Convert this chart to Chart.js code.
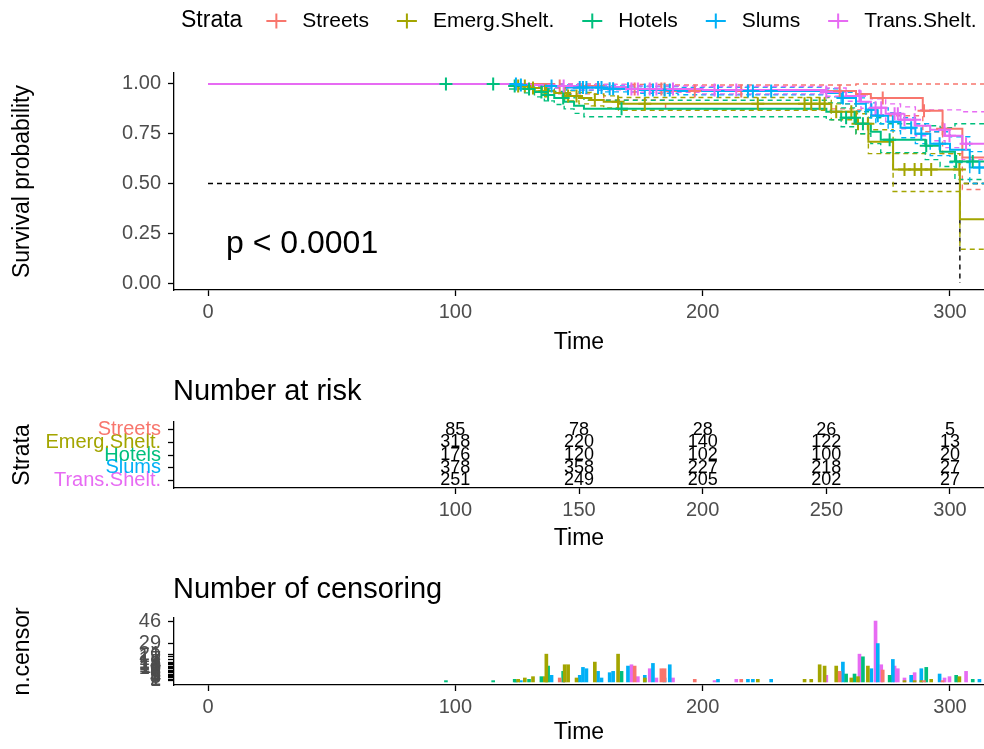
<!DOCTYPE html>
<html>
<head>
<meta charset="utf-8">
<script src="https://cdn.jsdelivr.net/npm/chart.js@4.4.1/dist/chart.umd.min.js"></script>
<style>
  html, body { margin: 0; padding: 0; background: #fff; }
  #wrap { position: relative; width: 984px; height: 749px; overflow: hidden; }
  #wrap canvas { position: absolute; left: 0; }
</style>
</head>
<body>
<div id="wrap">
  <canvas id="surv" width="984" height="365" style="top:0px"></canvas>
  <canvas id="risk" width="984" height="190" style="top:365px"></canvas>
  <canvas id="cens" width="984" height="194" style="top:555px"></canvas>
</div>
<script>
const strata = ['Streets', 'Emerg.Shelt.', 'Hotels', 'Slums', 'Trans.Shelt.'];
const colors = ['#F8766D', '#A3A500', '#00BF7D', '#00B0F6', '#E76BF3'];

// Kaplan-Meier steps: event time, survival, upper and lower confidence bound
const streetsTime  = [0, 140, 160, 185, 262, 268, 289, 297, 305, 320];
const streetsSurv  = [1, 0.99, 0.975, 0.965, 0.95, 0.93, 0.865, 0.775, 0.63, 0.63];
const streetsUpper = [1, 1, 0.998, 0.995, 1, 1, 1, 1, 1, 1];
const streetsLower = [1, 0.95, 0.92, 0.875, 0.87, 0.84, 0.76, 0.65, 0.47, 0.47];

const emergTime  = [0, 125, 130, 135, 140, 145, 150, 155, 160, 166, 252, 262, 267, 277, 304, 320];
const emergSurv  = [1, 0.99, 0.98, 0.965, 0.955, 0.94, 0.93, 0.92, 0.91, 0.90, 0.86, 0.80, 0.71, 0.57, 0.32, 0.32];
const emergUpper = [1, 1, 0.995, 0.985, 0.978, 0.966, 0.957, 0.948, 0.94, 0.932, 0.90, 0.85, 0.77, 0.65, 0.50, 0.50];
const emergLower = [1, 0.98, 0.965, 0.945, 0.93, 0.915, 0.90, 0.89, 0.88, 0.868, 0.82, 0.75, 0.65, 0.46, 0.17, 0.17];

const hotelsTime  = [0, 122, 128, 132, 136, 140, 144, 148, 152, 250, 256, 262, 268, 272, 290, 296, 302, 320];
const hotelsSurv  = [1, 0.99, 0.975, 0.96, 0.945, 0.93, 0.91, 0.89, 0.875, 0.86, 0.83, 0.80, 0.76, 0.72, 0.69, 0.66, 0.61, 0.61];
const hotelsUpper = [1, 1, 0.995, 0.985, 0.975, 0.962, 0.946, 0.93, 0.918, 0.905, 0.88, 0.86, 0.83, 0.80, 0.79, 0.78, 0.80, 0.80];
const hotelsLower = [1, 0.975, 0.955, 0.935, 0.915, 0.897, 0.875, 0.852, 0.835, 0.82, 0.785, 0.75, 0.70, 0.655, 0.62, 0.585, 0.52, 0.52];

const slumsTime  = [0, 125, 135, 145, 160, 175, 190, 250, 256, 262, 266, 270, 275, 280, 286, 292, 300, 308, 320];
const slumsSurv  = [1, 0.995, 0.99, 0.982, 0.976, 0.97, 0.965, 0.955, 0.93, 0.90, 0.87, 0.84, 0.81, 0.78, 0.75, 0.70, 0.67, 0.58, 0.58];
const slumsUpper = [1, 1, 1, 0.995, 0.99, 0.987, 0.983, 0.976, 0.958, 0.93, 0.905, 0.88, 0.855, 0.83, 0.80, 0.76, 0.735, 0.66, 0.66];
const slumsLower = [1, 0.988, 0.98, 0.968, 0.96, 0.953, 0.946, 0.935, 0.90, 0.865, 0.83, 0.80, 0.765, 0.73, 0.70, 0.64, 0.605, 0.50, 0.50];

const transTime  = [0, 130, 140, 150, 170, 200, 250, 258, 264, 268, 274, 280, 286, 292, 298, 305, 320];
const transSurv  = [1, 0.995, 0.99, 0.985, 0.975, 0.97, 0.96, 0.94, 0.91, 0.88, 0.85, 0.82, 0.79, 0.77, 0.74, 0.70, 0.70];
const transUpper = [1, 1, 1, 0.997, 0.99, 0.987, 0.98, 0.965, 0.945, 0.925, 0.90, 0.885, 0.87, 0.87, 0.87, 0.86, 0.86];
const transLower = [1, 0.985, 0.978, 0.97, 0.958, 0.95, 0.938, 0.913, 0.878, 0.845, 0.81, 0.775, 0.74, 0.715, 0.68, 0.62, 0.62];

// censoring: [time, number censored]
const streetsCensor = [[142.2, 3], [172.5, 12], [183.3, 10], [184.6, 10], [196.8, 2], [215.6, 2], [255.4, 8], [272.8, 9], [289.5, 1], [297, 1]];
const emergCensor = [[125.4, 2], [128.1, 3], [131.4, 4], [136.2, 4], [136.8, 21], [144.2, 13], [145.6, 13], [149.0, 3], [156.4, 15],
  [165.8, 21], [176.6, 3], [222.3, 2], [241.2, 2], [243.9, 2], [247.3, 13], [249.3, 12], [254.0, 12], [260.1, 3], [262.8, 4],
  [266.8, 12], [281.6, 1], [285.7, 1], [288.4, 1], [292.4, 2], [303.8, 4]];
const hotelsCensor = [[96.2, 1], [115.3, 1], [124.0, 2], [129.8, 2], [134.8, 4], [137.5, 12], [143.6, 8], [167.2, 8], [258.0, 6],
  [261.4, 6], [264.8, 19], [275.6, 5], [290.4, 11], [302.5, 5], [309.2, 2]];
const slumsCensor = [[124.5, 1], [126.5, 1], [138.9, 5], [150.3, 5], [151.6, 11], [153.0, 10], [157.7, 8], [159.1, 3], [162.4, 7],
  [163.8, 8], [169.8, 12], [176.6, 5], [179.9, 14], [184.6, 3], [186.7, 13], [206.2, 2], [218.3, 2], [220.3, 2], [227.7, 2],
  [256.7, 15], [268.2, 10], [270.8, 29], [276.9, 17], [284.3, 5], [288.4, 10], [295.8, 6], [311.9, 2]];
const transCensor = [[143.8, 1], [171.2, 13], [173.8, 4], [178.6, 10], [181.3, 3], [188.0, 3], [204.8, 1], [213.6, 2], [250.0, 5],
  [263.4, 21], [269.9, 46], [272.2, 13], [277.6, 12], [278.9, 10], [281.6, 3], [285.7, 7], [297.8, 3], [299.8, 4], [306.5, 8]];

// number at risk
const riskTimes = [100, 150, 200, 250, 300];
const riskStreets = [85, 78, 28, 26, 5];
const riskEmerg = [318, 220, 140, 122, 13];
const riskHotels = [176, 120, 102, 100, 20];
const riskSlums = [378, 358, 227, 218, 27];
const riskTrans = [251, 249, 205, 202, 27];

// median reference lines and axes
const medianLevel = 0.5;
const medianSpan = [0, 330];
const medianEmerg = 304;
const pText = 'p < 0.0001';
const pPos = [7.3, 0.195];
const timeTicks = [0, 100, 200, 300];
const survTicks = [0, 0.25, 0.5, 0.75, 1];
const timeMin = -13.75, timeMax = 313.75;

const fontFamily = "'Liberation Sans', Arial, sans-serif";
const tickColor = '#4D4D4D';
Chart.defaults.font.family = fontFamily;
Chart.defaults.color = '#000';

const groups = [
  { time: streetsTime, surv: streetsSurv, upper: streetsUpper, lower: streetsLower, censor: streetsCensor },
  { time: emergTime, surv: emergSurv, upper: emergUpper, lower: emergLower, censor: emergCensor },
  { time: hotelsTime, surv: hotelsSurv, upper: hotelsUpper, lower: hotelsLower, censor: hotelsCensor },
  { time: slumsTime, surv: slumsSurv, upper: slumsUpper, lower: slumsLower, censor: slumsCensor },
  { time: transTime, surv: transSurv, upper: transUpper, lower: transLower, censor: transCensor }
];
const riskRows = [riskStreets, riskEmerg, riskHotels, riskSlums, riskTrans];

function pts(xs, ys) { return xs.map((x, i) => ({ x: x, y: ys[i] })); }
function survAt(g, t) {
  let s = g.surv[0];
  for (let i = 0; i < g.time.length; i++) if (g.time[i] <= t) s = g.surv[i];
  return s;
}

function xAxis(ticksAt, height, titlePad) {
  return {
    type: 'linear', min: timeMin, max: timeMax, offset: false,
    afterBuildTicks: s => { s.ticks = ticksAt.map(v => ({ value: v })); },
    // fixed height, and no extra side padding so every panel spans the same width
    afterFit: s => { s.height = height; s.paddingLeft = 0; s.paddingRight = 0; },
    grid: { drawOnChartArea: false, color: '#000', tickLength: 6, tickWidth: 1.3, offset: false },
    border: { color: '#000', width: 1.3 },
    ticks: { color: tickColor, font: { size: 20 }, padding: 4, maxRotation: 0, autoSkip: false },
    title: { display: true, text: 'Time', color: '#000', font: { size: 23, lineHeight: 1.2 }, padding: { top: 0, bottom: titlePad } }
  };
}
function yAxis(title, min, max, ticksAt, extra) {
  return Object.assign({
    type: 'linear', min: min, max: max,
    afterBuildTicks: s => { s.ticks = ticksAt.map(v => ({ value: v })); },
    afterFit: s => { s.width = 174; },
    grid: { drawOnChartArea: false, color: '#000', tickLength: 6, tickWidth: 1.3 },
    border: { color: '#000', width: 1.3 },
    title: { display: true, text: title, color: '#000', font: { size: 23, lineHeight: 1.2 }, padding: { top: 9, bottom: 0 } }
  }, extra);
}

const panelTitle = {
  id: 'panelTitle',
  afterDraw(chart, args, opts) {
    if (!opts.text) return;
    const ctx = chart.ctx;
    ctx.save();
    ctx.font = opts.size + 'px ' + fontFamily;
    ctx.fillStyle = '#000';
    ctx.textAlign = 'left';
    ctx.textBaseline = 'middle';
    ctx.fillText(opts.text, chart.chartArea.left - 1, opts.y);
    ctx.restore();
  }
};

// ggplot-like legend: "Strata" title then crosses with labels in one row
const strataLegend = {
  id: 'strataLegend',
  afterDraw(chart, args, opts) {
    const ctx = chart.ctx;
    const y = opts.y;
    let x = opts.x;
    ctx.save();
    ctx.textAlign = 'left';
    ctx.textBaseline = 'middle';
    ctx.fillStyle = '#000';
    ctx.font = opts.titleSize + 'px ' + fontFamily;
    ctx.fillText('Strata', x, y);
    x += ctx.measureText('Strata').width + opts.titleGap;
    ctx.font = opts.size + 'px ' + fontFamily;
    chart.data.datasets.filter(d => d.isCurve).forEach(d => {
      const w = opts.cross;
      ctx.strokeStyle = d.borderColor;
      ctx.lineWidth = 2;
      ctx.beginPath();
      ctx.moveTo(x, y); ctx.lineTo(x + w, y);
      ctx.moveTo(x + w / 2, y - w * 0.38); ctx.lineTo(x + w / 2, y + w * 0.38);
      ctx.stroke();
      x += w + opts.textGap;
      ctx.fillStyle = '#000';
      ctx.fillText(d.label, x, y);
      x += ctx.measureText(d.label).width + opts.itemGap;
    });
    ctx.restore();
  }
};

const pLabel = {
  id: 'pLabel',
  afterDatasetsDraw(chart) {
    const { ctx, scales } = chart;
    ctx.save();
    ctx.font = '32px ' + fontFamily;
    ctx.fillStyle = '#000';
    ctx.textAlign = 'left';
    ctx.textBaseline = 'middle';
    ctx.fillText(pText, scales.x.getPixelForValue(pPos[0]), scales.y.getPixelForValue(pPos[1]));
    ctx.restore();
  }
};

const riskNumbers = {
  id: 'riskNumbers',
  afterDatasetsDraw(chart) {
    const { ctx, scales } = chart;
    ctx.save();
    ctx.font = '18px ' + fontFamily;
    ctx.fillStyle = '#000';
    ctx.textAlign = 'center';
    ctx.textBaseline = 'middle';
    riskRows.forEach((row, i) => {
      const yy = scales.y.getPixelForValue(strata.length - i);
      riskTimes.forEach((t, j) => ctx.fillText(String(row[j]), scales.x.getPixelForValue(t), yy));
    });
    ctx.restore();
  }
};

// ---------- survival curves ----------
const survDatasets = [];
groups.forEach((g, i) => {
  survDatasets.push({
    label: strata[i] + ' censored', data: g.censor.map(c => ({ x: c[0], y: survAt(g, c[0]) })),
    showLine: false, pointStyle: 'cross', pointRadius: 6.5, pointBorderWidth: 2,
    pointBorderColor: colors[i], borderColor: colors[i], order: 5 - i
  });
  survDatasets.push({
    label: strata[i], isCurve: true, data: pts(g.time, g.surv), stepped: true,
    borderColor: colors[i], borderWidth: 2, pointRadius: 0, fill: false, order: 10 - i
  });
  [g.upper, g.lower].forEach(b => survDatasets.push({
    label: strata[i] + ' CI', data: pts(g.time, b), stepped: true, borderColor: colors[i],
    borderWidth: 1.4, borderDash: [5, 4], pointRadius: 0, fill: false, order: 15 - i
  }));
});
survDatasets.push({
  label: 'median', data: pts(medianSpan, [medianLevel, medianLevel]), borderColor: '#000',
  borderWidth: 1.4, borderDash: [5, 4], pointRadius: 0, order: 20
});
survDatasets.push({
  label: 'median Emerg', data: pts([medianEmerg, medianEmerg], [medianLevel, 0]), borderColor: '#000',
  borderWidth: 1.4, borderDash: [5, 4], pointRadius: 0, order: 20
});

new Chart(document.getElementById('surv'), {
  type: 'line',
  data: { datasets: survDatasets },
  options: {
    responsive: false, animation: false, events: [],
    layout: { autoPadding: false, padding: { top: 73, left: 0, right: 0, bottom: 0 } },
    plugins: {
      legend: { display: false }, tooltip: { enabled: false },
      strataLegend: { x: 181, y: 21, titleSize: 23, size: 21, titleGap: 24, cross: 20, textGap: 16, itemGap: 28 }
    },
    scales: {
      x: xAxis(timeTicks, 75, 8.8),
      y: yAxis('Survival probability', -0.035, 1.055, survTicks, {
        ticks: { color: tickColor, font: { size: 20 }, padding: 7, callback: v => v.toFixed(2) }
      })
    }
  },
  plugins: [strataLegend, pLabel]
});

// ---------- number at risk ----------
new Chart(document.getElementById('risk'), {
  type: 'scatter',
  data: { datasets: [] },
  options: {
    responsive: false, animation: false, events: [],
    layout: { autoPadding: false, padding: { top: 57, left: 0, right: 0, bottom: 0 } },
    plugins: {
      legend: { display: false }, tooltip: { enabled: false },
      panelTitle: { text: 'Number at risk', y: 27, size: 29 }
    },
    scales: {
      x: xAxis(riskTimes, 67, 2.8),
      y: yAxis('Strata', 0.4, 5.6, [1, 2, 3, 4, 5], {
        ticks: {
          font: { size: 20 }, padding: 7, autoSkip: false,
          callback: v => strata[strata.length - v],
          color: c => colors[strata.length - c.tick.value]
        }
      })
    }
  },
  plugins: [panelTitle, riskNumbers]
});

// ---------- number of censoring ----------
const censorTicks = [...new Set(groups.flatMap(g => g.censor.map(c => c[1])))].sort((a, b) => a - b);
new Chart(document.getElementById('cens'), {
  type: 'bar',
  data: {
    datasets: groups.map((g, i) => ({
      label: strata[i], data: g.censor.map(c => ({ x: c[0], y: c[1] })),
      backgroundColor: colors[i], barThickness: 3, grouped: false
    }))
  },
  options: {
    responsive: false, animation: false, events: [],
    layout: { autoPadding: false, padding: { top: 63, left: 0, right: 0, bottom: 0 } },
    plugins: {
      legend: { display: false }, tooltip: { enabled: false },
      panelTitle: { text: 'Number of censoring', y: 35, size: 29 }
    },
    scales: {
      x: xAxis(timeTicks, 64, 2.8),
      y: yAxis('n.censor', -2.3, 48.3, censorTicks, {
        ticks: { color: tickColor, font: { size: 20 }, padding: 7, autoSkip: false, callback: v => String(v) }
      })
    }
  },
  plugins: [panelTitle]
});
</script>
</body>
</html>
